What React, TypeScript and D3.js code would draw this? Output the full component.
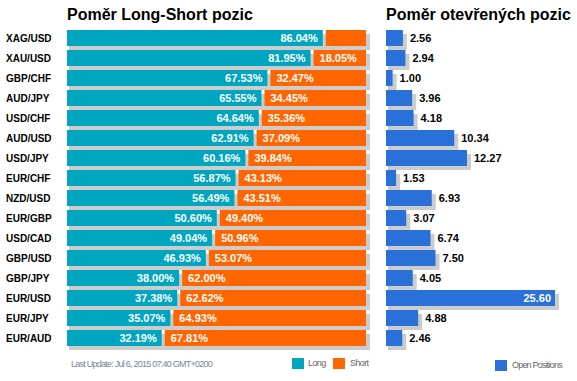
import React from "react";
import * as d3 from "d3";

const pairs = ["XAG/USD","XAU/USD","GBP/CHF","AUD/JPY","USD/CHF","AUD/USD","USD/JPY","EUR/CHF","NZD/USD","EUR/GBP","USD/CAD","GBP/USD","GBP/JPY","EUR/USD","EUR/JPY","EUR/AUD"];
const longPct = [86.04,81.95,67.53,65.55,64.64,62.91,60.16,56.87,56.49,50.60,49.04,46.93,38.00,37.38,35.07,32.19];
const shortPct = [13.96,18.05,32.47,34.45,35.36,37.09,39.84,43.13,43.51,49.40,50.96,53.07,62.00,62.62,64.93,67.81];
const openPositions = [2.56,2.94,1.00,3.96,4.18,10.34,12.27,1.53,6.93,3.07,6.74,7.50,4.05,25.60,4.88,2.46];

const TEAL = "#00A6BF";
const ORANGE = "#FF6600";
const BLUE = "#2A70D9";
const SHADOW = "#CCCCCC";
const FONT = "Arial, 'Liberation Sans', sans-serif";

export default function App() {
  const W = 577, H = 381;
  const y = d3.scaleBand<string>().domain(pairs).range([30, 346]).paddingInner(0.2).paddingOuter(0);
  const bw = y.bandwidth();
  const yPos = (i: number) => (y(pairs[i]) as number);
  const x = d3.scaleLinear().domain([0, 100]).range([67, 366]);
  const xr = d3.scaleLinear().domain([0, 25.6]).range([386, 555]);
  const gap = 1.5;

  return (
    <svg width={W} height={H} style={{ position: "absolute", left: 0, top: 0, fontFamily: FONT }}>
      <text x={67} y={20} fontSize={16} fontWeight="bold" fill="#000">Poměr Long-Short pozic</text>
      <text x={386} y={20} fontSize={16} fontWeight="bold" fill="#000">Poměr otevřených pozic</text>
      {pairs.map((p, i) => {
        const top = yPos(i);
        const lEnd = x(longPct[i]) - gap;
        const sStart = x(longPct[i]) + gap;
        const sEnd = x(100);
        const sW = sEnd - sStart;
        const lW = lEnd - x(0);
        const v = openPositions[i];
        const rEnd = xr(v);
        const rW = rEnd - xr(0);
        const inside = rW > 120;
        return (
          <g key={p}>
            <text x={6} y={top + 11.5} fontSize={10} fontWeight="bold" fill="#000">{p}</text>
            <rect x={x(0) + 2} y={top + 4} width={sEnd - x(0) + 2} height={bw} fill={SHADOW} />
            <rect x={x(0)} y={top} width={lW} height={bw} fill={TEAL} />
            <rect x={sStart} y={top} width={sW} height={bw} fill={ORANGE} />
            {lW > 45 && (
              <text x={lEnd - 5} y={top + 12} fontSize={11} fontWeight="bold" fill="#fff" textAnchor="end">{longPct[i].toFixed(2)}%</text>
            )}
            {sW > 45 && (
              <text x={sStart + 6} y={top + 12} fontSize={11} fontWeight="bold" fill="#fff">{shortPct[i].toFixed(2)}%</text>
            )}
            <rect x={xr(0) + 2} y={top + 4} width={rW + 2} height={bw} fill={SHADOW} />
            <rect x={xr(0)} y={top} width={rW} height={bw} fill={BLUE} />
            {inside ? (
              <text x={rEnd - 4} y={top + 12} fontSize={11} fontWeight="bold" fill="#fff" textAnchor="end">{v.toFixed(2)}</text>
            ) : (
              <text x={rEnd + 7} y={top + 12} fontSize={11} fontWeight="bold" fill="#000">{v.toFixed(2)}</text>
            )}
          </g>
        );
      })}
      <text x={71} y={367} fontSize={9} fill="#7A8593" letterSpacing={-0.75}>Last Update: Jul 6, 2015 07:40 GMT+0200</text>
      <rect x={292} y={358} width={12} height={11} fill={TEAL} />
      <text x={308} y={366} fontSize={9} fill="#666" letterSpacing={-0.6}>Long</text>
      <rect x={333} y={358} width={12} height={11} fill={ORANGE} />
      <text x={350} y={366} fontSize={9} fill="#666" letterSpacing={-0.6}>Short</text>
      <rect x={495} y={360} width={12} height={11} fill={BLUE} />
      <text x={512} y={368} fontSize={9} fill="#666" letterSpacing={-0.8}>Open Positions</text>
    </svg>
  );
}
